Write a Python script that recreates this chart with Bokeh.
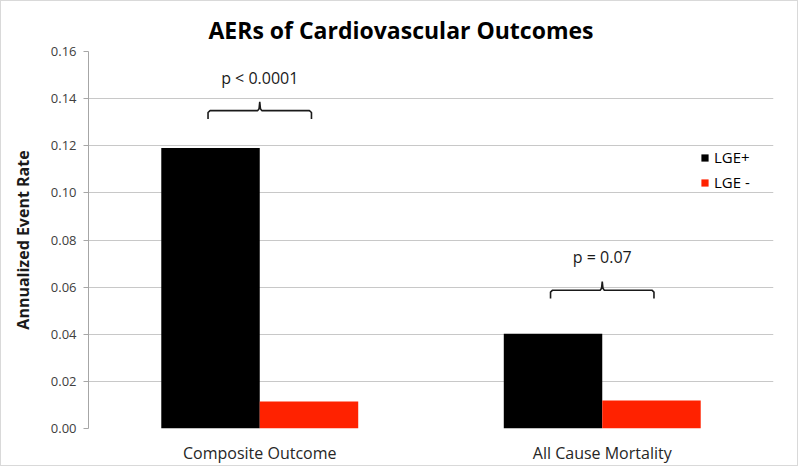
import numpy as np
from bokeh.plotting import figure
from bokeh.models import Range1d, FixedTicker, ColumnDataSource, Legend, LegendItem
from bokeh.embed import file_html
from bokeh.resources import INLINE
from bokeh.core.properties import value

# ---- data ----
categories = ["Composite Outcome", "All Cause Mortality"]
lge_pos = [0.119, 0.0402]
lge_neg = [0.0115, 0.0119]
series_names = ["LGE+", "LGE -"]
p_labels = ["p < 0.0001", "p = 0.07"]
brace_level = [0.1349, 0.0587]
y_ticks = [0.00, 0.02, 0.04, 0.06, 0.08, 0.10, 0.12, 0.14, 0.16]
y_tick_labels = ["0.00", "0.02", "0.04", "0.06", "0.08", "0.10", "0.12", "0.14", "0.16"]

FONT = "Open Sans"
BLACK = "#000000"
RED = "#ff2200"

centers = np.arange(len(categories)) + 0.5
bar_w = 0.2875

p = figure(width=798, height=466, output_backend="svg", toolbar_location=None,
           x_range=Range1d(0, len(categories)), y_range=Range1d(0, 0.16),
           title="AERs of Cardiovascular Outcomes",
           min_border_left=87, min_border_right=26, min_border_top=50, min_border_bottom=39)
p.styles = {"border": "1px solid #d9d9d9"}

p.title.align = "left"
p.title.text_font = FONT
p.title.text_font_size = "23px"
p.title.text_font_style = "bold"
p.title.text_color = "#000000"
p.title.offset = 120
p.title.standoff = 11

p.outline_line_color = None
p.background_fill_color = "white"
p.border_fill_color = "white"

# grid
p.xgrid.grid_line_color = None
p.ygrid.grid_line_color = "#c8c8c8"
p.ygrid.grid_line_width = 1
p.ygrid.ticker = FixedTicker(ticks=y_ticks)

# y axis
p.yaxis.ticker = FixedTicker(ticks=y_ticks)
p.yaxis.major_label_overrides = {t: l for t, l in zip(y_ticks, y_tick_labels)}
p.yaxis.axis_label = "Annualized Event Rate"
p.yaxis.axis_label_text_font = FONT
p.yaxis.axis_label_text_font_style = "bold"
p.yaxis.axis_label_text_font_size = "16px"
p.yaxis.axis_label_text_color = "#1a1a1a"
p.yaxis.axis_label_standoff = 14
p.yaxis.major_label_text_font = FONT
p.yaxis.major_label_text_font_size = "13px"
p.yaxis.major_label_text_color = "#404040"
p.yaxis.major_label_standoff = 7
p.yaxis.axis_line_color = "#a6a6a6"
p.yaxis.major_tick_line_color = "#a6a6a6"
p.yaxis.major_tick_out = 5
p.yaxis.major_tick_in = 0
p.yaxis.minor_tick_line_color = None

# x axis
p.xaxis.ticker = FixedTicker(ticks=list(centers))
p.xaxis.major_label_overrides = {float(c): n for c, n in zip(centers, categories)}
p.xaxis.axis_line_color = None
p.xaxis.major_tick_line_color = None
p.xaxis.major_tick_out = 0
p.xaxis.major_tick_in = 0
p.xaxis.minor_tick_line_color = None
p.xaxis.major_label_text_font = FONT
p.xaxis.major_label_text_font_size = "16px"
p.xaxis.major_label_text_color = "#262626"
p.xaxis.major_label_standoff = 13

# bars
src = ColumnDataSource(dict(x_pos=centers - bar_w / 2, x_neg=centers + bar_w / 2,
                            pos=lge_pos, neg=lge_neg))
r_pos = p.vbar(x="x_pos", top="pos", width=bar_w, source=src, fill_color=BLACK, line_color=None)
r_neg = p.vbar(x="x_neg", top="neg", width=bar_w, source=src, fill_color=RED, line_color=None)

# braces (curly-brace shape above each group)
half = 0.151
corner = 0.006
tip_dx = 0.006
drop = 0.0035
rise = 0.0037
xs, ys = [], []
for c, lv in zip(centers, brace_level):
    xs.append([c - half, c - half, c - half + corner, c - tip_dx, c - tip_dx / 3, c,
               c + tip_dx / 3, c + tip_dx, c + half - corner, c + half, c + half])
    ys.append([lv - drop, lv - 0.0008, lv, lv, lv + 0.0008, lv + rise,
               lv + 0.0008, lv, lv, lv - 0.0008, lv - drop])
p.multi_line(xs=xs, ys=ys, line_color="#1a1a1a", line_width=1.6)

p.text(x=centers, y=np.array(brace_level) + 0.0140, text=p_labels,
       text_font=value(FONT), text_font_size="16px", text_color="#1a1a1a",
       text_align="center", text_baseline="middle")

legend = Legend(items=[LegendItem(label=series_names[0], renderers=[r_pos]),
                       LegendItem(label=series_names[1], renderers=[r_neg])],
                location=(612, 236))
legend.background_fill_alpha = 0
legend.border_line_color = None
legend.padding = 0
legend.margin = 0
legend.spacing = 5
legend.glyph_width = 9
legend.glyph_height = 9
legend.label_height = 20
legend.label_standoff = 5
legend.label_text_font = FONT
legend.label_text_font_size = "15px"
legend.label_text_color = "#000000"
p.add_layout(legend)

open("out.html", "w").write(file_html(p, INLINE))
